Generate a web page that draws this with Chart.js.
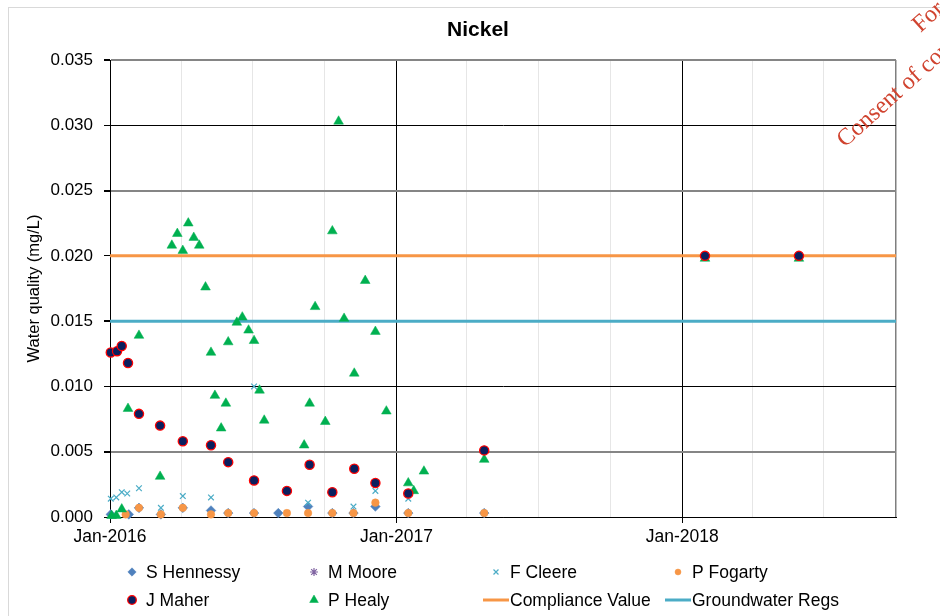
<!DOCTYPE html>
<html>
<head>
<meta charset="utf-8">
<title>Nickel</title>
<script src="https://cdn.jsdelivr.net/npm/chart.js@4/dist/chart.umd.min.js"></script>
<style>
  html, body { margin: 0; padding: 0; background: #fff; }
  canvas { display: block; }
</style>
</head>
<body>
<canvas id="chart" width="940" height="616"></canvas>
<script>
// ---- Nickel results by sampling location (mg/L) ----
const chartTitle = 'Nickel';
const yAxisTitle = 'Water quality (mg/L)';

const hennessyDates  = ['2016-01-02','2016-01-25','2016-02-07','2016-03-06','2016-04-03','2016-05-09','2016-05-31','2016-07-03','2016-08-03','2016-09-10','2016-10-11','2016-11-07','2016-12-05','2017-01-16','2017-04-23'];
const hennessyValues = [0.0002, 0.0002, 0.0007, 0.0002, 0.0007, 0.0005, 0.0003, 0.0003, 0.0003, 0.0008, 0.0003, 0.0003, 0.0008, 0.0003, 0.0003];

const mooreDates  = [];
const mooreValues = [];

const cleereDates  = ['2016-01-02','2016-01-09','2016-01-16','2016-01-23','2016-02-07','2016-03-06','2016-04-03','2016-05-09','2016-07-03','2016-08-14','2016-09-10','2016-11-07','2016-12-05','2017-01-16','2017-04-23'];
const cleereValues = [0.0014, 0.0015, 0.0019, 0.0018, 0.0022, 0.0007, 0.0016, 0.0015, 0.0100, 0.0003, 0.0011, 0.0008, 0.0020, 0.0014, 0.0003];

const fogartyDates  = ['2016-01-21','2016-02-07','2016-03-06','2016-04-03','2016-05-09','2016-05-31','2016-07-03','2016-08-14','2016-09-10','2016-10-11','2016-11-07','2016-12-05','2017-01-16','2017-04-23'];
const fogartyValues = [0.0002, 0.0007, 0.0002, 0.0007, 0.0002, 0.0003, 0.0003, 0.0003, 0.0003, 0.0003, 0.0003, 0.0011, 0.0003, 0.0003];

const maherDates  = ['2016-01-02','2016-01-10','2016-01-16','2016-01-24','2016-02-07','2016-03-05','2016-04-03','2016-05-09','2016-05-31','2016-07-03','2016-08-14','2016-09-12','2016-10-11','2016-11-08','2016-12-05','2017-01-16','2017-04-23','2018-01-30','2018-05-30'];
const maherValues = [0.0126, 0.0127, 0.0131, 0.0118, 0.0079, 0.0070, 0.0058, 0.0055, 0.0042, 0.0028, 0.0020, 0.0040, 0.0019, 0.0037, 0.0026, 0.0018, 0.0051, 0.0200, 0.0200];

const healyDates  = ['2016-01-03','2016-01-09','2016-01-16','2016-01-24','2016-02-07','2016-03-05','2016-03-20','2016-03-27','2016-04-03','2016-04-10','2016-04-17','2016-04-24','2016-05-02','2016-05-09','2016-05-14','2016-05-22','2016-05-28','2016-05-31','2016-06-11','2016-06-18','2016-06-26','2016-07-03','2016-07-10','2016-07-16','2016-09-05','2016-09-12','2016-09-19','2016-10-02','2016-10-11','2016-10-19','2016-10-26','2016-11-08','2016-11-22','2016-12-05','2016-12-19','2017-01-16','2017-01-23','2017-02-05','2017-04-23','2018-01-30','2018-05-30'];
const healyValues = [0.0001, 0.0001, 0.0006, 0.0083, 0.0139, 0.0031, 0.0208, 0.0217, 0.0204, 0.0225, 0.0214, 0.0208, 0.0176, 0.0126, 0.0093, 0.0068, 0.0087, 0.0134, 0.0149, 0.0153, 0.0143, 0.0135, 0.0097, 0.0074, 0.0055, 0.0087, 0.0161, 0.0073, 0.0219, 0.0303, 0.0152, 0.0110, 0.0181, 0.0142, 0.0081, 0.0026, 0.0020, 0.0035, 0.0044, 0.0198, 0.0198];

const complianceValue  = 0.020;
const groundwaterRegs  = 0.015;

// ---- axes ----
const xStartDate = '2016-01-01';
const xEndDate   = '2018-10-01';
const monthNames = ['Jan','Feb','Mar','Apr','May','Jun','Jul','Aug','Sep','Oct','Nov','Dec'];
const gridMonths = [0, 3, 6, 9];          // quarterly grid, labelled in January
const yTickValues = [0, 0.005, 0.010, 0.015, 0.020, 0.025, 0.030, 0.035];

const watermarkLines = ['For inspection purposes only.', 'Consent of copyright owner required for any other use.'];

const toTime = s => Date.parse(s + 'T00:00:00Z');
const pts = (dates, values) => dates.map((d, i) => ({ x: toTime(d), y: values[i] }));
const xMin = toTime(xStartDate), xMax = toTime(xEndDate);

const xGridValues = [];
for (let y = new Date(xMin).getUTCFullYear(); y <= new Date(xMax).getUTCFullYear(); y++) {
  gridMonths.forEach(m => { const t = Date.UTC(y, m, 1); if (t >= xMin && t <= xMax) xGridValues.push(t); });
}
const monthOf = v => new Date(v).getUTCMonth();
const isJanuary = v => monthOf(v) === 0 && new Date(v).getUTCDate() === 1;
const isQuarter = v => gridMonths.includes(monthOf(v)) && new Date(v).getUTCDate() === 1;

const FONT = '"Liberation Sans", Arial, Helvetica, sans-serif';

const marker = (label, data, style, fill, stroke, radius, borderWidth, order, legendRadius) => ({
  label, data, order, clip: false,
  pointStyle: style, pointRadius: radius, pointHoverRadius: radius,
  backgroundColor: fill, borderColor: stroke, pointBorderWidth: borderWidth, borderWidth,
  showLine: false, legendRadius
});
const refLine = (label, value, color, order) => ({
  label, order, showLine: true, pointRadius: 0, borderColor: color, backgroundColor: color,
  borderWidth: 3, data: [{ x: xMin, y: value }, { x: xMax, y: value }], isLine: true
});

const datasets = [
  marker('S Hennessy', pts(hennessyDates, hennessyValues), 'rectRot', '#4F81BD', '#4F81BD', 4.8, 0.5, 7, 4.2),
  marker('M Moore', pts(mooreDates, mooreValues), 'star', '#8064A2', '#8064A2', 4.5, 1.2, 6, 4),
  marker('F Cleere', pts(cleereDates, cleereValues), 'crossRot', '#4BACC6', '#4BACC6', 4, 1.2, 5, 3.5),
  marker('P Fogarty', pts(fogartyDates, fogartyValues), 'circle', '#F79646', '#F79646', 3.8, 0.5, 4, 3),
  marker('J Maher', pts(maherDates, maherValues), 'circle', '#0B1F5E', '#FF0000', 4.6, 1.3, 1, 4.3),
  marker('P Healy', pts(healyDates, healyValues), 'triangle', '#00B050', '#00B050', 5.6, 0.5, 2, 5),
  refLine('Compliance Value', complianceValue, '#F79646', 9),
  refLine('Groundwater Regs', groundwaterRegs, '#4BACC6', 8)
];

// Title, outer frame, two-row legend and watermark
const framePlugin = {
  id: 'frame',
  beforeDraw(chart) {
    const ctx = chart.ctx;
    ctx.save();
    ctx.fillStyle = '#fff';
    ctx.fillRect(0, 0, chart.width, chart.height);
    ctx.strokeStyle = '#d9d9d9';
    ctx.lineWidth = 1;
    ctx.strokeRect(8.5, 7.5, chart.width + 20, chart.height + 20);
    ctx.restore();
  },
  afterDraw(chart) {
    const ctx = chart.ctx;
    ctx.save();

    ctx.fillStyle = '#000';
    ctx.font = 'bold 21px ' + FONT;
    ctx.textAlign = 'center';
    ctx.textBaseline = 'middle';
    ctx.fillText(chartTitle, 478, 30);

    const colX = [119, 301, 483, 665];
    const rowY = [572, 600];
    ctx.font = '17.5px ' + FONT;
    ctx.textAlign = 'left';
    chart.data.datasets.forEach((ds, i) => {
      const x0 = colX[i % 4], y = rowY[Math.floor(i / 4)];
      if (ds.isLine) {
        ctx.strokeStyle = ds.borderColor;
        ctx.lineWidth = 3;
        ctx.beginPath();
        ctx.moveTo(x0, y);
        ctx.lineTo(x0 + 26, y);
        ctx.stroke();
      } else {
        ctx.fillStyle = ds.backgroundColor;
        ctx.strokeStyle = ds.borderColor;
        ctx.lineWidth = ds.pointBorderWidth;
        Chart.helpers.drawPoint(ctx, {
          pointStyle: ds.pointStyle, radius: ds.legendRadius, rotation: 0, borderWidth: ds.pointBorderWidth
        }, x0 + 13, y);
      }
      ctx.fillStyle = '#000';
      ctx.fillText(ds.label, x0 + 27, y + 1);
    });

    ctx.fillStyle = '#D0432F';
    ctx.font = '24px "Liberation Serif", "Times New Roman", serif';
    ctx.textBaseline = 'alphabetic';
    ctx.translate(845, 148);
    ctx.rotate(-42 * Math.PI / 180);
    const w1 = ctx.measureText(watermarkLines[1]).width;
    const w0 = ctx.measureText(watermarkLines[0]).width;
    ctx.fillText(watermarkLines[1], 0, 0);
    ctx.fillText(watermarkLines[0], (w1 - w0) / 2 + 10, -35);
    ctx.restore();
  }
};

new Chart(document.getElementById('chart'), {
  type: 'scatter',
  data: { datasets },
  options: {
    responsive: false,
    animation: false,
    devicePixelRatio: 1,
    layout: { padding: { top: 60, right: 44, bottom: 0, left: 0 } },
    plugins: { legend: { display: false }, title: { display: false }, tooltip: { enabled: false } },
    events: [],
    scales: {
      x: {
        type: 'linear',
        min: xMin,
        max: xMax,
        afterBuildTicks: s => { s.ticks = xGridValues.map(v => ({ value: v })); },
        afterFit: s => { s.height = 99; },
        ticks: {
          autoSkip: false, maxRotation: 0, minRotation: 0, padding: 4,
          color: '#000', font: { family: FONT, size: 17.5 },
          callback: v => isJanuary(v) ? monthNames[0] + '-' + new Date(v).getUTCFullYear() : ''
        },
        grid: {
          color: c => {
            const v = c.tick.value;
            if (v === xMax) return '#7f7f7f';
            if (isJanuary(v)) return '#000';
            return isQuarter(v) ? '#e6e6e6' : 'rgba(0,0,0,0)';
          },
          lineWidth: c => (c.tick.value === xMax ? 1.5 : 1),
          tickColor: c => isJanuary(c.tick.value) ? '#000' : 'rgba(0,0,0,0)',
          tickLength: 6
        },
        border: { color: '#000', width: 1 }
      },
      y: {
        min: 0,
        max: 0.035,
        afterBuildTicks: s => { s.ticks = yTickValues.map(v => ({ value: v })); },
        afterFit: s => { s.width = 110; },
        ticks: {
          padding: 11, color: '#000', font: { family: FONT, size: 17 },
          callback: v => v.toFixed(3)
        },
        grid: {
          color: c => (Math.round(c.tick.value * 1000) % 10 === 0 ? '#000' : '#858585'),
          lineWidth: c => (Math.round(c.tick.value * 1000) % 10 === 0 ? 1 : 2),
          tickColor: '#000',
          tickLength: 6
        },
        border: { color: '#000', width: 1 },
        title: {
          display: true, text: yAxisTitle, color: '#000',
          font: { family: FONT, size: 16.5 }, padding: { top: 25, bottom: 0 }
        }
      }
    }
  },
  plugins: [framePlugin]
});
</script>
</body>
</html>
